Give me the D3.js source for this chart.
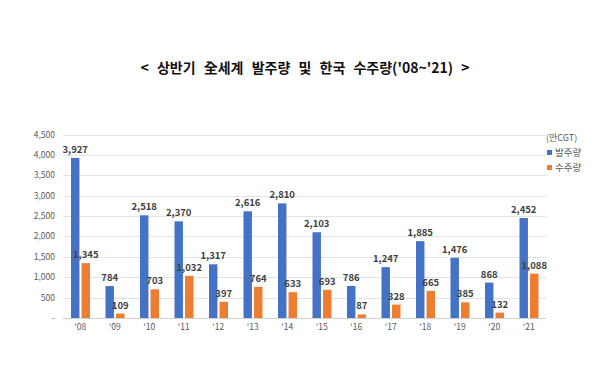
<!DOCTYPE html>
<html>
<head>
<meta charset="utf-8">
<script src="https://cdn.jsdelivr.net/npm/d3@7"></script>
<style>
  body { margin: 0; background: #fff; }
  text { font-family: "Noto Sans CJK KR", "Noto Sans", sans-serif; }
</style>
</head>
<body>
<div id="chart"></div>
<script>
const years = ["'08", "'09", "'10", "'11", "'12", "'13", "'14", "'15", "'16", "'17", "'18", "'19", "'20", "'21"]
const worldOrders = [3927, 784, 2518, 2370, 1317, 2616, 2810, 2103, 786, 1247, 1885, 1476, 868, 2452]
const koreaOrders = [1345, 109, 703, 1032, 397, 764, 633, 693, 87, 328, 665, 385, 132, 1088]
const yTicks = [0, 500, 1000, 1500, 2000, 2500, 3000, 3500, 4000, 4500]
const seriesNames = ["발주량", "수주량"]

const width = 600, height = 376
const colors = ["#4472C4", "#ED7D31"]

const svg = d3.select("#chart")
    .append("svg")
    .attr("width", width)
    .attr("height", height)

// title
svg.append("text")
    .attr("x", 305)
    .attr("y", 73)
    .attr("text-anchor", "middle")
    .style("font-size", "14px")
    .style("font-weight", "bold")
    .style("word-spacing", "5px")
    .style("fill", "#111")
    .text("<  상반기 全세계 발주량 및 한국 수주량('08~'21)  >")

const x = d3.scaleBand()
    .domain(years)
    .range([63, 546])

const y = d3.scaleLinear()
    .domain([0, 4500])
    .range([318, 134.5])

const inner = d3.scaleBand()
    .domain([0, 1])
    .range([8, 27])
    .paddingInner(0.2)

// grid
svg.append("g")
    .selectAll("line")
    .data(yTicks)
    .join("line")
    .attr("x1", 63)
    .attr("x2", 546)
    .attr("y1", d => Math.round(y(d)) + 0.5)
    .attr("y2", d => Math.round(y(d)) + 0.5)
    .attr("stroke", d => d === 0 ? "#d0d0d0" : "#e3e3e3")
    .attr("stroke-width", 1)

// y axis labels
svg.append("g")
    .selectAll("text")
    .data(yTicks)
    .join("text")
    .attr("x", 55)
    .attr("y", d => y(d) + 3)
    .attr("text-anchor", "end")
    .style("font-size", "8.5px")
    .style("fill", "#595959")
    .text(d => d === 0 ? "-" : d3.format(",")(d))

// x axis labels
svg.append("g")
    .selectAll("text")
    .data(years)
    .join("text")
    .attr("x", d => x(d) + x.bandwidth() / 2)
    .attr("y", 330)
    .attr("text-anchor", "middle")
    .style("font-size", "8.5px")
    .style("fill", "#595959")
    .text(d => d)

const series = [worldOrders, koreaOrders]

series.forEach((vals, s) => {
    const g = svg.append("g")
    g.selectAll("rect")
        .data(vals)
        .join("rect")
        .attr("x", (d, i) => x(years[i]) + inner(s))
        .attr("width", inner.bandwidth())
        .attr("y", d => y(d))
        .attr("height", d => y(0) - y(d))
        .attr("fill", colors[s])

    g.selectAll("text")
        .data(vals)
        .join("text")
        .attr("x", (d, i) => x(years[i]) + inner(s) + inner.bandwidth() / 2)
        .attr("y", d => y(d) - 5)
        .attr("text-anchor", "middle")
        .style("font-size", "9.5px")
        .style("font-weight", "bold")
        .style("fill", "#404040")
        .text(d => d3.format(",")(d))
})

// legend
const legend = svg.append("g")
    .attr("transform", "translate(546, 0)")

legend.append("text")
    .attr("x", 0)
    .attr("y", 141)
    .style("font-size", "9px")
    .style("fill", "#595959")
    .text("(만CGT)")

seriesNames.forEach((name, i) => {
    legend.append("rect")
        .attr("x", 1)
        .attr("y", 150 + i * 15)
        .attr("width", 5)
        .attr("height", 5)
        .attr("fill", colors[i])
    legend.append("text")
        .attr("x", 9)
        .attr("y", 156 + i * 15)
        .style("font-size", "9.5px")
        .style("fill", "#595959")
        .text(name)
})
</script>
</body>
</html>
